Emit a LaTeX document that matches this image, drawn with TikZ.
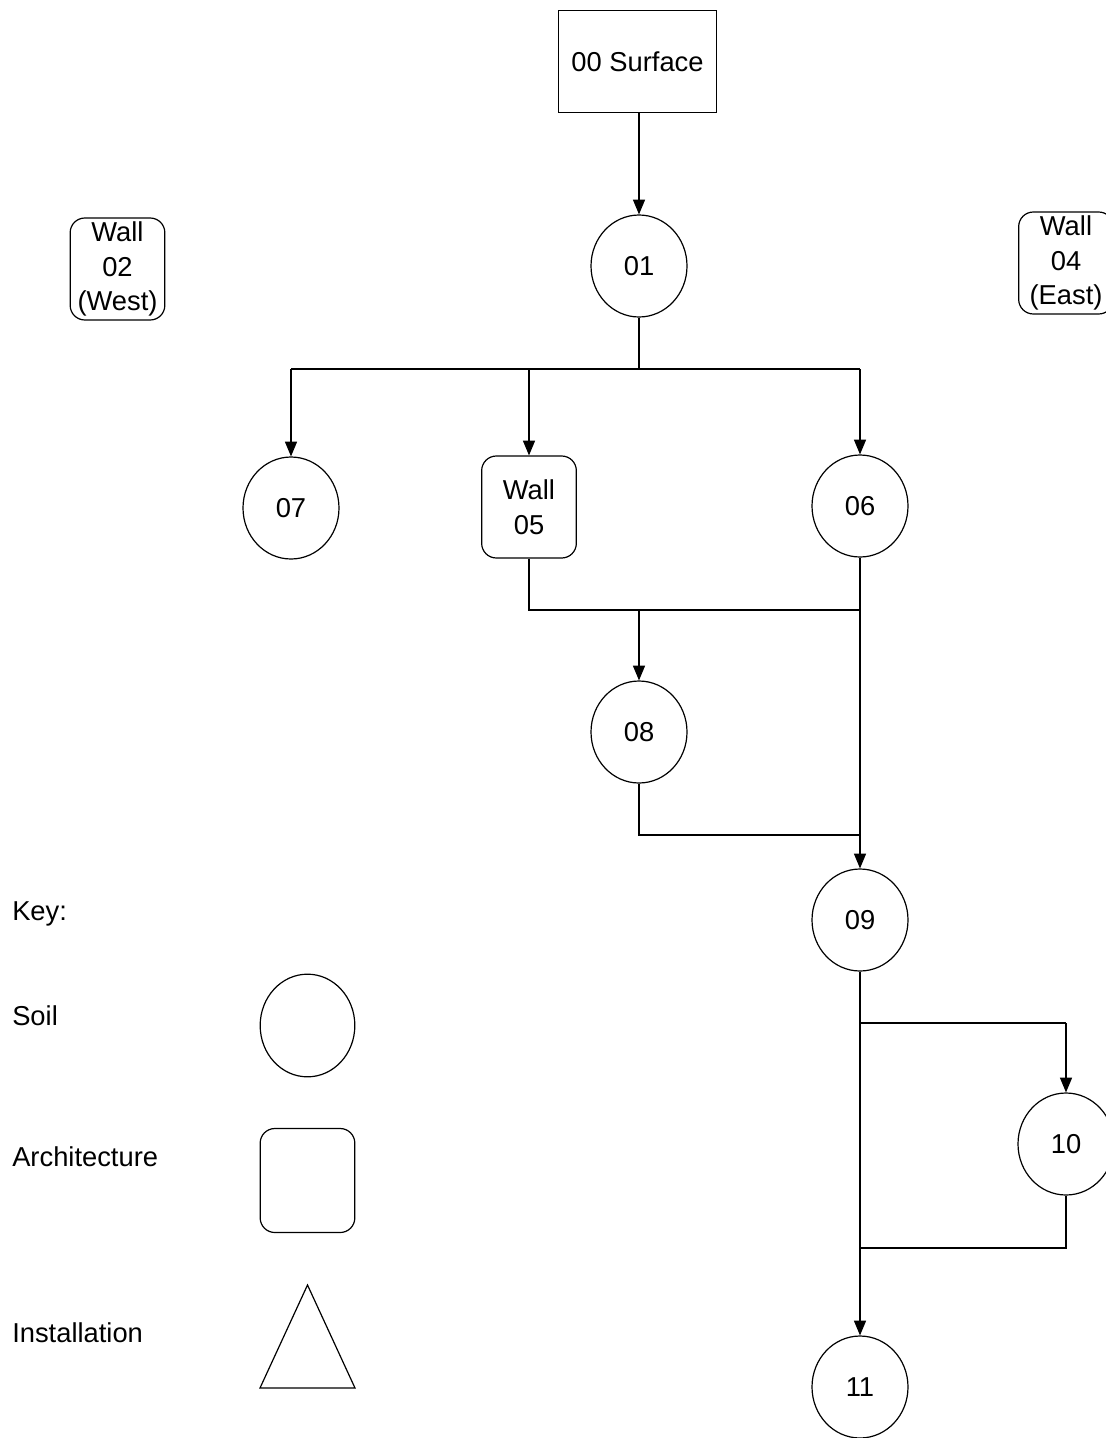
\documentclass[tikz,border=0pt]{standalone}
\usepackage{fontspec}
\setmainfont{Liberation Sans}
\usetikzlibrary{shapes.geometric,arrows.meta}
\begin{document}
\begin{tikzpicture}[x=0.75pt,y=-0.75pt,
  every node/.style={font=\fontsize{20.5}{26}\selectfont},
  soil/.style={draw,ellipse,line width=0.9pt,minimum width=72pt,minimum height=76.5pt,inner sep=0pt},
  arch/.style={draw,rectangle,rounded corners=11pt,line width=0.9pt,minimum width=71pt,minimum height=76.5pt,inner sep=0pt,align=center},
  surf/.style={draw,rectangle,line width=0.9pt,minimum width=119pt,minimum height=77pt,inner sep=0pt},
  keytext/.style={anchor=west,inner sep=0pt},
  link/.style={line width=0.8pt},
  arr/.style={link,-{Triangle[width=9pt,length=11pt]}}]
\useasboundingbox (0,0) rectangle (1106,1438);
% nodes
\node[surf] (n00) at (637.5,61.5) {00 Surface};
\node[soil] (n01) at (639,266) {01};
\node[arch] (n02) at (117.5,269) {Wall\\02\\(West)};
\node[arch] (n04) at (1066,263) {Wall\\04\\(East)};
\node[soil] (n07) at (291,508) {07};
\node[arch] (n05) at (529,507) {Wall\\05};
\node[soil] (n06) at (860,506) {06};
\node[soil] (n08) at (639,732) {08};
\node[soil] (n09) at (860,920) {09};
\node[soil] (n10) at (1066,1144) {10};
\node[soil] (n11) at (860,1387) {11};
% key
\node[keytext] (k0) at (12,914) {Key:};
\node[keytext] (k1) at (12,1016) {Soil};
\node[keytext] (k2) at (12,1157) {Architecture};
\node[keytext] (k3) at (12,1333) {Installation};
\node[soil,minimum width=71pt,minimum height=77pt] (ks) at (307.5,1025.5) {};
\node[arch,minimum height=78pt] (ka) at (307.5,1180.5) {};
\draw[line width=0.9pt] (307.5,1285) -- (355,1388) -- (260,1388) -- cycle;
% junction coordinates
\coordinate (j1) at (639,369);
\coordinate (j1a) at (291,369);
\coordinate (j1b) at (529,369);
\coordinate (j1c) at (860,369);
\coordinate (j2a) at (529,610);
\coordinate (j2b) at (639,610);
\coordinate (j2c) at (860,610);
\coordinate (j3a) at (639,835);
\coordinate (j3c) at (860,835);
\coordinate (j4a) at (860,1023);
\coordinate (j4b) at (1066,1023);
\coordinate (j5a) at (1066,1248);
\coordinate (j5c) at (860,1248);
% connectors
\draw[arr] (n00.south -| n01) -- (n01);
\draw[link] (n01) -- (j1);
\draw[link] (j1a) -- (j1c);
\draw[arr] (j1a) -- (n07);
\draw[arr] (j1b) -- (n05);
\draw[arr] (j1c) -- (n06);
\draw[link] (n05) -- (j2a) -- (j2c);
\draw[arr] (j2b) -- (n08);
\draw[link] (n08) -- (j3a) -- (j3c);
\draw[arr] (n06) -- (n09);
\draw[arr] (n09) -- (n11);
\draw[link] (j4a) -- (j4b);
\draw[arr] (j4b) -- (n10);
\draw[link] (n10) -- (j5a) -- (j5c);
\end{tikzpicture}
\end{document}
